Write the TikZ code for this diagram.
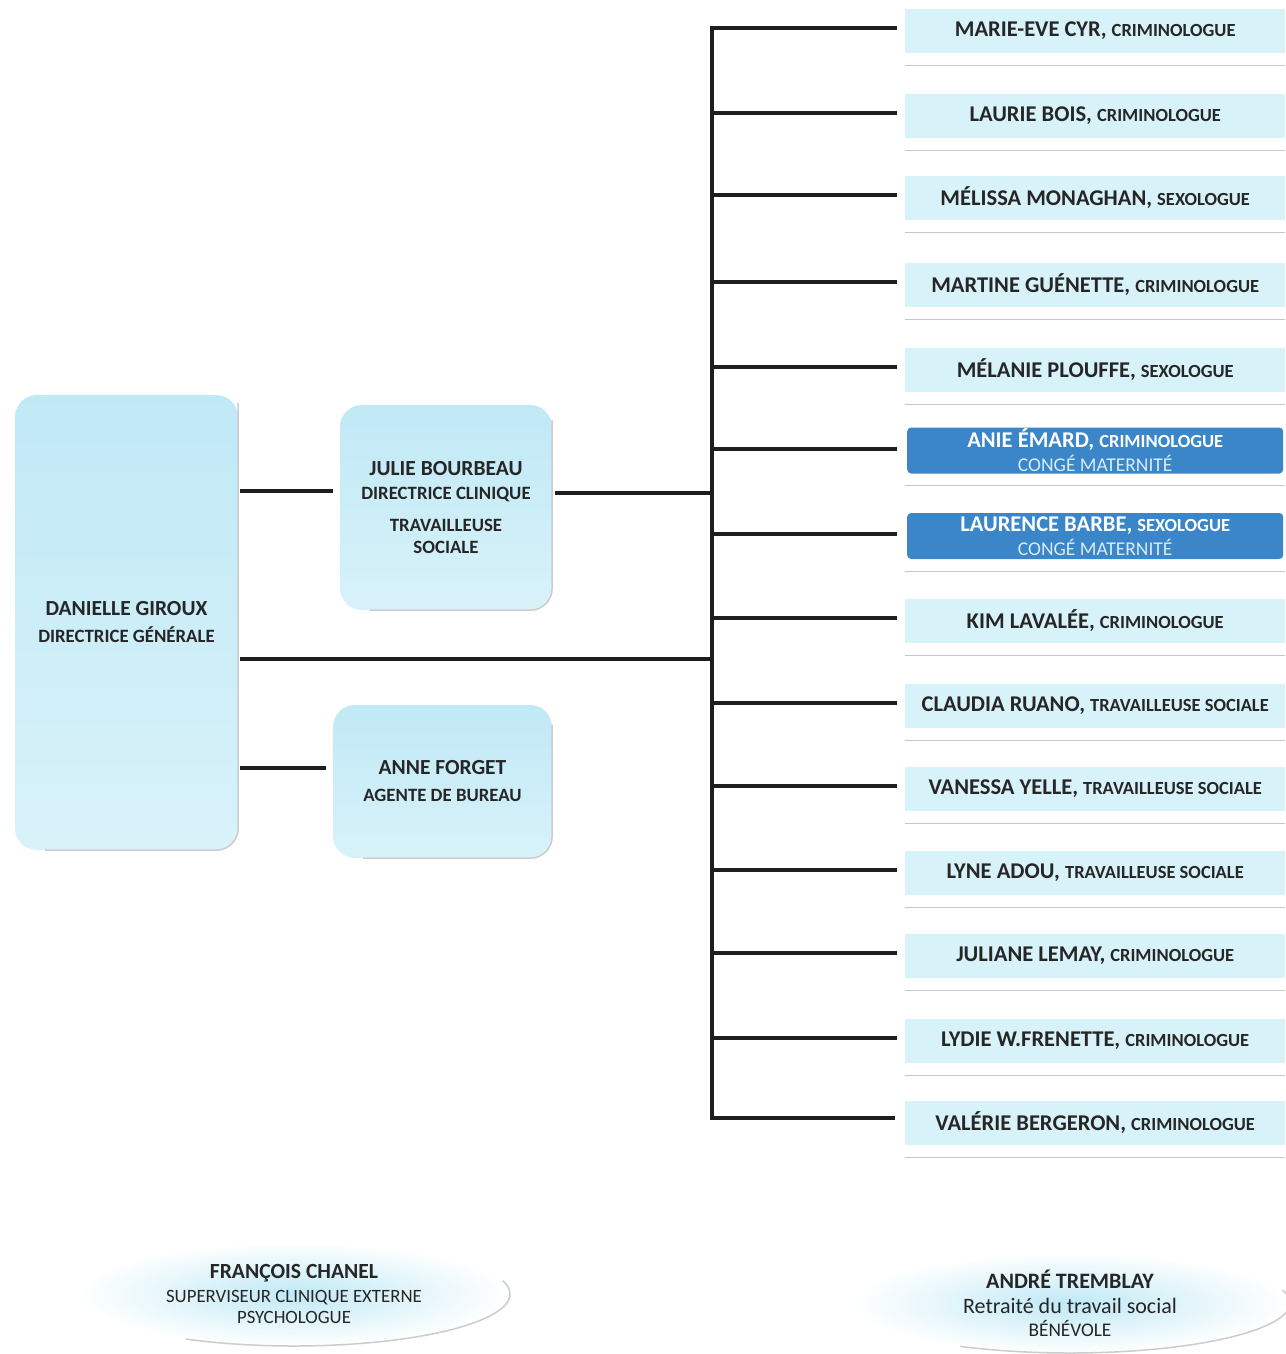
\documentclass[tikz,border=0pt]{standalone}
\usepackage{fontspec}
\setmainfont{Carlito}
\usetikzlibrary{shapes.geometric,calc}
\definecolor{pale}{RGB}{216,242,249}
\definecolor{paleB}{RGB}{192,233,246}
\definecolor{leave}{RGB}{58,134,200}
\definecolor{leavetxt}{RGB}{214,236,250}
\definecolor{ink}{RGB}{38,38,38}
\definecolor{conncol}{RGB}{30,30,30}
\newcommand\pname[1]{{\fontsize{22.5}{24}\selectfont\bfseries #1}}
\newcommand\prole[1]{{\fontsize{18.5}{24}\selectfont\bfseries #1}}
\newcommand\mname[1]{{\fontsize{21.5}{24}\selectfont\bfseries #1}}
\newcommand\mrole[1]{{\fontsize{18.8}{24}\selectfont\bfseries #1}}
\begin{document}
\begin{tikzpicture}[x=1pt,y=-1pt,
  connector/.style={line width=4pt, draw=conncol, line join=miter},
  staffbox/.style={fill=pale, minimum width=380pt, minimum height=44pt, inner sep=0pt, anchor=west, text=ink},
  leavebox/.style={fill=leave, rounded corners=4pt, minimum width=376pt, minimum height=46pt, inner sep=0pt, anchor=west, text=white, align=center, font=\fontsize{19.5}{24}\selectfont},
  mainbox/.style={top color=paleB, bottom color=pale, rounded corners=22pt, inner sep=0pt, text=ink, align=center, font=\fontsize{19}{24}\selectfont},
  oval/.style={ellipse, inner color=paleB, outer color=white, inner sep=0pt, text=ink, align=center, font=\fontsize{18.8}{23}\selectfont},
  shadowline/.style={draw=gray!45, line width=1.2pt},
  edge/.style={draw=gray!40, line width=1.5pt}
]
\useasboundingbox[fill=white] (0,0) rectangle (1285,1354);
\coordinate (busx) at (712,0);

% main boxes
\node[mainbox, minimum width=223pt, minimum height=455pt] (danielle) at (126.5,622.5)
  {\mname{DANIELLE GIROUX}\\[3pt]\mrole{DIRECTRICE GÉNÉRALE}};
\node[mainbox, minimum width=212pt, minimum height=205pt] (julie) at (446,507.5)
  {\mname{JULIE BOURBEAU}\\\mrole{DIRECTRICE CLINIQUE}\\[8pt]\mrole{TRAVAILLEUSE}\\[-2pt]\mrole{SOCIALE}};
\node[mainbox, minimum width=219pt, minimum height=153pt] (anne) at (442.5,781.5)
  {\mname{ANNE FORGET}\\[3pt]\mrole{AGENTE DE BUREAU}};

\draw[edge, rounded corners=22pt] ($(danielle.north east)+(0,8)$) -- (danielle.south east) -- ($(danielle.south west)+(30,0)$);
\draw[edge, rounded corners=22pt] ($(julie.north east)+(0,15)$) -- (julie.south east) -- ($(julie.south west)+(30,0)$);
\draw[edge, rounded corners=22pt] ($(anne.north east)+(0,20)$) -- (anne.south east) -- ($(anne.south west)+(30,0)$);

% staff
\node[staffbox] (s1) at (905,31) {\pname{MARIE-EVE CYR, }\prole{CRIMINOLOGUE}};
\node[staffbox] (s2) at (905,116) {\pname{LAURIE BOIS, }\prole{CRIMINOLOGUE}};
\node[staffbox] (s3) at (905,198) {\pname{MÉLISSA MONAGHAN, }\prole{SEXOLOGUE}};
\node[staffbox] (s4) at (905,285) {\pname{MARTINE GUÉNETTE, }\prole{CRIMINOLOGUE}};
\node[staffbox] (s5) at (905,370) {\pname{MÉLANIE PLOUFFE, }\prole{SEXOLOGUE}};
\node[leavebox] (s6) at (907,450.5) {\pname{ANIE ÉMARD, }\prole{CRIMINOLOGUE}\\{\color{leavetxt}CONGÉ MATERNITÉ}};
\node[leavebox] (s7) at (907,536) {\pname{LAURENCE BARBE, }\prole{SEXOLOGUE}\\{\color{leavetxt}CONGÉ MATERNITÉ}};
\node[staffbox] (s8) at (905,621) {\pname{KIM LAVALÉE, }\prole{CRIMINOLOGUE}};
\node[staffbox] (s9) at (905,706) {\pname{CLAUDIA RUANO, }\prole{TRAVAILLEUSE SOCIALE}};
\node[staffbox] (s10) at (905,789) {\pname{VANESSA YELLE, }\prole{TRAVAILLEUSE SOCIALE}};
\node[staffbox] (s11) at (905,873) {\pname{LYNE ADOU, }\prole{TRAVAILLEUSE SOCIALE}};
\node[staffbox] (s12) at (905,956) {\pname{JULIANE LEMAY, }\prole{CRIMINOLOGUE}};
\node[staffbox] (s13) at (905,1041) {\pname{LYDIE W.FRENETTE, }\prole{CRIMINOLOGUE}};
\node[staffbox] (s14) at (905,1123) {\pname{VALÉRIE BERGERON, }\prole{CRIMINOLOGUE}};

\foreach \i in {1,...,5,8,9,10,11,12,13,14}
  \draw[shadowline] ($(s\i.south west)+(0,12)$) -- ($(s\i.south east)+(0,12)$);
\foreach \i in {6,7}
  \draw[shadowline] ($(s\i.south west)+(-2,12)$) -- ($(s\i.south east)+(2,12)$);

% connectors
\draw[connector] ($(s1.west)+(-8,-3)$) -- ($(s1.west -| busx)+(0,-3)$) -- ($(s14.west -| busx)+(0,-5)$) -- ($(s14.west)+(-10,-5)$);
\foreach \i in {2,3,4,5,8,9,10,11,12,13}
  \draw[connector] ($(s\i.west -| busx)+(0,-3)$) -- ($(s\i.west)+(-8,-3)$);
\foreach \i in {6,7}
  \draw[connector] ($(s\i.west -| busx)+(0,-2)$) -- ($(s\i.west)+(-10,-2)$);

\coordinate (jd) at ($(julie.west)+(-7,-17)$);
\draw[connector] (jd) -- ($(jd -| danielle.east)+(2,0)$);
\coordinate (jb) at ($(julie.east)+(3,-15)$);
\draw[connector] (jb) -- (jb -| busx);
\coordinate (db) at ($(danielle.east)+(2,36)$);
\draw[connector] (db) -- (db -| busx);
\coordinate (da) at ($(anne.west)+(-7,-14)$);
\draw[connector] (da) -- ($(da -| danielle.east)+(2,0)$);

% ovals
\node[oval, minimum width=433pt, minimum height=104pt] (fc) at (294,1294)
  {{\fontsize{21.6}{23}\selectfont\bfseries FRANÇOIS CHANEL}\\[1pt]SUPERVISEUR CLINIQUE EXTERNE\\[-2pt]PSYCHOLOGUE};
\node[oval, minimum width=440pt, minimum height=100pt] (at) at (1070,1303)
  {{\fontsize{22}{23}\selectfont\bfseries ANDRÉ TREMBLAY}\\[2pt]{\fontsize{22}{23}\selectfont Retraité du travail social}\\{\fontsize{19.3}{23}\selectfont BÉNÉVOLE}};
\draw[edge] ($(fc.center)+({216*cos(-15)},{52*sin(-15)})$) arc[start angle=-15, end angle=120, x radius=216, y radius=52];
\draw[edge] ($(at.center)+({220*cos(-15)},{50*sin(-15)})$) arc[start angle=-15, end angle=120, x radius=220, y radius=50];
\end{tikzpicture}
\end{document}
